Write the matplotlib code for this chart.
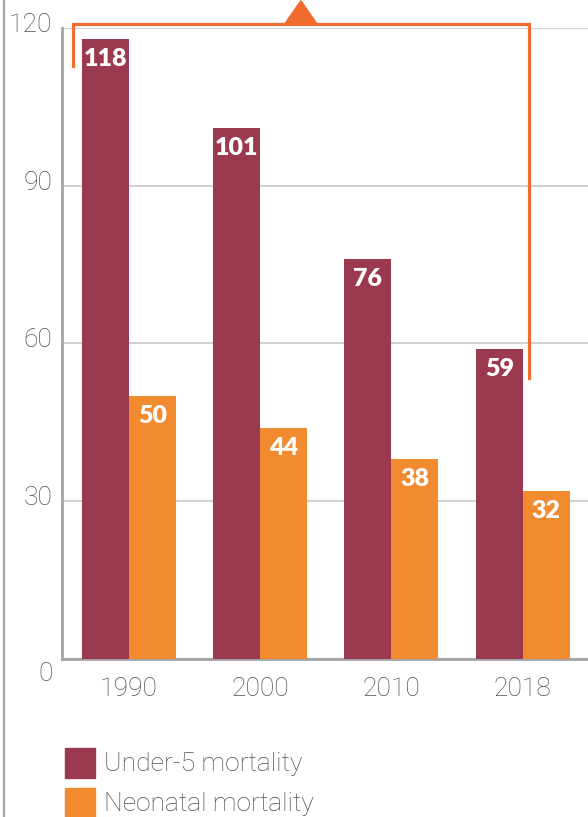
import matplotlib.pyplot as plt
from matplotlib.lines import Line2D
from matplotlib.patches import Rectangle, Polygon

years = ['1990', '2000', '2010', '2018']
under5 = [118, 101, 76, 59]
neonatal = [50, 44, 38, 32]
yticks = [0, 30, 60, 90, 120]
series_names = ['Under-5 mortality', 'Neonatal mortality']

maroon = '#9B3A4E'
orange = '#F28A30'
bracket_col = '#F26B2F'
grey_txt = '#505050'
spine_col = '#A3A3A8'

fig = plt.figure(figsize=(5.88, 8.17), dpi=100)
W, H = 588, 817
ax = fig.add_axes([62 / W, (H - 659) / H, 1 - 62 / W, (659 - 28) / H])

x = list(range(len(years)))
w = 0.358
ax.bar([i - w / 2 for i in x], under5, w, color=maroon, zorder=3)
ax.bar([i + w / 2 for i in x], neonatal, w, color=orange, zorder=3)

for i in x:
    for xv, v in ((i - w / 2, under5[i]), (i + w / 2, neonatal[i])):
        ax.annotate(str(v), (xv, v), xytext=(0, -6.5), textcoords='offset points',
                    ha='center', va='top', color='white', fontsize=18,
                    family=['Lato', 'DejaVu Sans'], fontweight='heavy', zorder=4)

ax.set_xlim(-0.51, 3.497)
ax.set_ylim(0, 120)
ax.set_yticks(yticks)
ax.set_yticklabels([])
ax.yaxis.grid(True, color='#D2D2D2', lw=1.5, zorder=0)
ax.set_xticks(x)
ax.set_xticklabels(years, fontsize=19, color=grey_txt, family='Roboto', fontweight='light')
ax.tick_params(length=0, axis='x', pad=13)
ax.tick_params(length=0, axis='y')
for s in ['top', 'right']:
    ax.spines[s].set_visible(False)
for s in ['left', 'bottom']:
    ax.spines[s].set_color(spine_col)
    ax.spines[s].set_linewidth(2)

# y tick labels placed by hand (0 sits below the axis)
for t in yticks:
    off = -15 if t == 0 else 3
    ax.annotate(str(t), (0, t), xycoords=('axes fraction', 'data'),
                xytext=(-7, off * 0.72), textcoords='offset points',
                ha='right', va='center', fontsize=19, color=grey_txt,
                family='Roboto', fontweight='light', annotation_clip=False)

# bracket with triangle
bl, br = -0.4265, 3.046
btop = 120.8
ax.plot([bl, bl, br, br], [112.8, btop, btop, 53.4], color=bracket_col,
        lw=2.3, clip_on=False, zorder=5, solid_joinstyle='miter')
mid = (bl + br) / 2
ax.add_patch(Polygon([[mid - 0.122, btop], [mid + 0.122, btop], [mid, btop + 4.4]],
                     closed=True, color=bracket_col, clip_on=False, zorder=5))

# outer left rule
fig.add_artist(Line2D([3.5 / W, 3.5 / W], [0, 1], color='#A8A8AC', lw=1.6))

# legend
for k, (name, col) in enumerate(zip(series_names, [maroon, orange])):
    top = 748 + 40 * k
    fig.add_artist(Rectangle((65 / W, (H - top - 30) / H), 30 / W, 30 / H,
                             color=col, transform=fig.transFigure))
    fig.text(104 / W, (H - top - 16) / H, name, fontsize=19, color=grey_txt,
             family='Roboto', fontweight='light', va='center', ha='left')

fig.savefig('out.png', dpi=100)
